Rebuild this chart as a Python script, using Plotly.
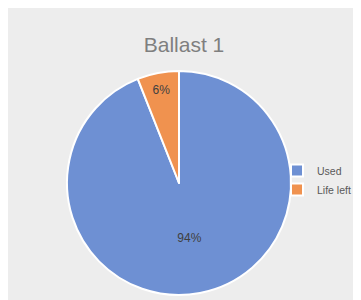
import plotly.graph_objects as go

labels = ["Used", "Life left"]
values = [94, 6]
colors = ["#6E90D3", "#F0924F"]
title_text = "Ballast 1"

W, H = 361, 300
OFF = 8  # page body margin offset

fig = go.Figure()
fig.add_trace(go.Pie(
    labels=labels,
    values=values,
    sort=False,
    direction="clockwise",
    rotation=0,
    marker=dict(colors=colors, line=dict(color="white", width=2)),
    textinfo="percent",
    textposition="inside",
    insidetextorientation="horizontal",
    textfont=dict(family="Liberation Sans, Arial", size=12, color="#404040"),
    domain=dict(x=[(67 - OFF) / W, (291 - OFF) / W],
                y=[(H - (295 - OFF)) / H, (H - (71 - OFF)) / H]),
    hoverinfo="label+percent",
))

fig.update_layout(
    width=W, height=H,
    margin=dict(l=0, r=0, t=0, b=0, autoexpand=False),
    paper_bgcolor="#EDEDED",
    plot_bgcolor="#EDEDED",
    title=dict(text=title_text, x=(184 - OFF) / W, xanchor="center",
               y=1 - (45 - OFF) / H, yanchor="middle",
               font=dict(family="Liberation Sans, Arial", size=21, color="#7F7F7F")),
    showlegend=True,
    legend=dict(x=(317 - OFF - 40) / W, xanchor="left", y=1 - (180 - OFF) / H, yanchor="middle",
                font=dict(family="Liberation Sans, Arial", size=10.5, color="#595959"),
                bgcolor="rgba(0,0,0,0)", itemwidth=30),
)

fig.write_html("out.html")
